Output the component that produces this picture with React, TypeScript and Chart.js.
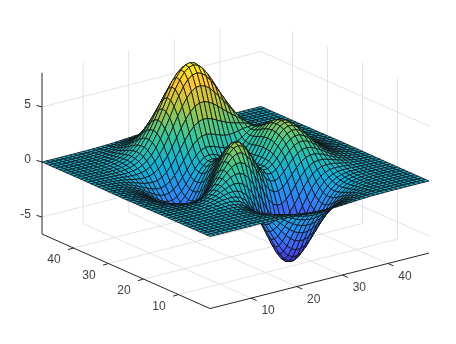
import React, { useEffect, useRef } from "react";
import { Chart, registerables } from "chart.js";

Chart.register(...registerables);

// Mesh sample positions on both horizontal axes
const gridIndex = [1,2,3,4,5,6,7,8,9,10,11,12,13,14,15,16,17,18,19,20,21,22,23,24,25,26,27,28,29,30,31,32,33,34,35,36,37,38,39,40,41,42,43,44,45,46,47,48,49];
const xTicks = [10, 20, 30, 40];
const yTicks = [10, 20, 30, 40];
const zTicks = [-5, 0, 5];
const zMin = -6.55;
const zMax = 8.11;

// Surface heights, one list per y index, each running along x
const y01 = [0,0,0,0,0,0,0,0,0,0,.01,.01,0,0,-.01,-.02,-.03,-.05,-.08,-.11,-.14,-.17,-.2,-.23,-.25,-.25,-.25,-.24,-.22,-.2,-.17,-.14,-.11,-.08,-.06,-.04,-.03,-.02,-.01,-.01,0,0,0,0,0,0,0,0,0];
const y02 = [0,0,0,0,0,0,0,0,.01,.01,.01,.01,0,0,-.01,-.03,-.06,-.09,-.14,-.19,-.24,-.3,-.35,-.39,-.42,-.44,-.43,-.41,-.38,-.34,-.29,-.24,-.19,-.14,-.1,-.07,-.05,-.03,-.02,-.01,-.01,0,0,0,0,0,0,0,0];
const y03 = [0,0,0,0,0,0,0,.01,.01,.01,.01,.01,0,0,-.02,-.05,-.1,-.15,-.22,-.3,-.39,-.48,-.56,-.63,-.68,-.7,-.7,-.66,-.61,-.54,-.46,-.38,-.3,-.23,-.17,-.12,-.08,-.05,-.03,-.02,-.01,-.01,0,0,0,0,0,0,0];
const y04 = [0,0,0,0,0,0,.01,.01,.01,.01,.01,.01,0,-.01,-.04,-.09,-.16,-.24,-.35,-.48,-.61,-.75,-.88,-.98,-1.06,-1.09,-1.08,-1.03,-.95,-.84,-.71,-.59,-.46,-.35,-.26,-.18,-.12,-.08,-.05,-.03,-.02,-.01,-.01,0,0,0,0,0,0];
const y05 = [0,0,0,0,0,.01,.01,.01,.01,.02,.02,.02,0,-.02,-.07,-.13,-.23,-.36,-.52,-.71,-.91,-1.11,-1.3,-1.46,-1.56,-1.61,-1.6,-1.53,-1.4,-1.24,-1.06,-.87,-.69,-.52,-.38,-.27,-.18,-.12,-.08,-.05,-.03,-.01,-.01,0,0,0,0,0,0];
const y06 = [0,0,0,0,0,.01,.01,.02,.02,.02,.03,.02,0,-.03,-.1,-.19,-.33,-.51,-.74,-1.01,-1.3,-1.58,-1.85,-2.07,-2.23,-2.3,-2.28,-2.18,-2,-1.77,-1.51,-1.23,-.98,-.74,-.54,-.38,-.26,-.17,-.11,-.06,-.04,-.02,-.01,-.01,0,0,0,0,0];
const y07 = [0,0,0,0,.01,.01,.01,.02,.03,.03,.04,.03,.01,-.04,-.12,-.25,-.44,-.69,-.99,-1.35,-1.74,-2.14,-2.51,-2.81,-3.02,-3.12,-3.1,-2.96,-2.72,-2.41,-2.05,-1.68,-1.32,-1.01,-.73,-.52,-.35,-.22,-.14,-.08,-.05,-.02,-.01,-.01,0,0,0,0,0];
const y08 = [0,0,0,0,.01,.01,.02,.03,.04,.05,.05,.05,.02,-.03,-.13,-.29,-.53,-.84,-1.23,-1.69,-2.2,-2.71,-3.19,-3.59,-3.88,-4.01,-3.99,-3.82,-3.51,-3.1,-2.64,-2.16,-1.7,-1.29,-.94,-.66,-.44,-.28,-.17,-.1,-.06,-.03,-.01,-.01,0,0,0,0,0];
const y09 = [0,0,0,.01,.01,.01,.02,.03,.05,.06,.07,.07,.05,-.01,-.13,-.32,-.59,-.97,-1.45,-2.01,-2.64,-3.28,-3.88,-4.39,-4.76,-4.94,-4.93,-4.72,-4.35,-3.85,-3.27,-2.67,-2.1,-1.59,-1.15,-.8,-.53,-.34,-.2,-.12,-.06,-.03,-.01,0,0,0,0,0,0];
const y10 = [0,0,0,.01,.01,.02,.03,.04,.06,.08,.1,.1,.09,.04,-.08,-.27,-.58,-1,-1.54,-2.2,-2.93,-3.69,-4.41,-5.03,-5.49,-5.73,-5.74,-5.51,-5.08,-4.5,-3.82,-3.12,-2.44,-1.83,-1.32,-.9,-.59,-.37,-.22,-.12,-.06,-.03,-.01,0,0,0,0,0,0];
const y11 = [0,0,0,.01,.01,.02,.03,.05,.07,.1,.13,.15,.15,.12,.02,-.16,-.46,-.9,-1.48,-2.19,-3.01,-3.87,-4.7,-5.43,-5.98,-6.29,-6.33,-6.1,-5.64,-5,-4.24,-3.45,-2.69,-2,-1.42,-.96,-.61,-.37,-.2,-.1,-.04,-.01,0,.01,.01,.01,0,0,0];
const y12 = [0,0,0,0,.01,.02,.03,.05,.08,.12,.16,.2,.24,.24,.18,.04,-.22,-.63,-1.19,-1.92,-2.77,-3.69,-4.6,-5.42,-6.06,-6.45,-6.55,-6.35,-5.89,-5.22,-4.42,-3.58,-2.76,-2.03,-1.41,-.93,-.57,-.32,-.16,-.06,-.01,.01,.02,.02,.01,.01,.01,0,0];
const y13 = [0,0,0,0,.01,.01,.03,.05,.08,.12,.18,.26,.33,.38,.39,.33,.15,-.18,-.68,-1.35,-2.18,-3.12,-4.07,-4.96,-5.68,-6.15,-6.32,-6.18,-5.76,-5.11,-4.31,-3.46,-2.63,-1.89,-1.27,-.79,-.44,-.21,-.07,.01,.04,.05,.05,.04,.03,.02,.01,.01,0];
const y14 = [0,0,0,0,0,0,.01,.03,.07,.12,.19,.29,.41,.53,.62,.67,.61,.41,.04,-.53,-1.28,-2.17,-3.12,-4.05,-4.83,-5.39,-5.65,-5.6,-5.25,-4.65,-3.9,-3.09,-2.29,-1.57,-.98,-.53,-.22,-.03,.08,.12,.12,.11,.08,.06,.04,.03,.02,.01,.01];
const y15 = [0,-.01,-.01,-.01,-.01,-.02,-.01,0,.03,.08,.17,.29,.45,.64,.83,1.01,1.11,1.08,.88,.48,-.14,-.94,-1.85,-2.77,-3.61,-4.24,-4.61,-4.66,-4.4,-3.9,-3.22,-2.48,-1.74,-1.08,-.56,-.17,.08,.22,.27,.26,.23,.18,.13,.09,.06,.04,.02,.01,.01];
const y16 = [-.01,-.01,-.01,-.02,-.03,-.04,-.05,-.05,-.03,.01,.09,.23,.42,.68,.97,1.28,1.55,1.73,1.73,1.53,1.09,.43,-.4,-1.3,-2.16,-2.87,-3.32,-3.48,-3.34,-2.94,-2.36,-1.69,-1.04,-.47,-.02,.29,.46,.52,.5,.44,.35,.27,.19,.13,.09,.05,.03,.02,.01];
const y17 = [-.01,-.01,-.02,-.04,-.06,-.08,-.1,-.12,-.13,-.11,-.04,.09,.3,.6,.98,1.42,1.86,2.23,2.45,2.47,2.22,1.72,.99,.14,-.73,-1.48,-2.02,-2.27,-2.22,-1.92,-1.43,-.85,-.27,.22,.58,.8,.88,.86,.77,.64,.5,.37,.26,.18,.11,.07,.04,.02,.01];
const y18 = [-.01,-.02,-.04,-.06,-.09,-.13,-.17,-.22,-.26,-.28,-.24,-.14,.07,.39,.83,1.36,1.95,2.5,2.93,3.15,3.11,2.76,2.16,1.37,.51,-.27,-.86,-1.18,-1.21,-.97,-.54,-.02,.49,.91,1.2,1.33,1.33,1.23,1.06,.85,.66,.48,.34,.22,.14,.09,.05,.03,.02];
const y19 = [-.02,-.03,-.05,-.08,-.12,-.18,-.25,-.34,-.42,-.49,-.51,-.45,-.28,.03,.49,1.09,1.78,2.48,3.09,3.5,3.63,3.44,2.94,2.22,1.4,.61,0,-.36,-.41,-.2,.2,.7,1.18,1.56,1.79,1.86,1.78,1.59,1.35,1.08,.82,.59,.41,.28,.18,.11,.06,.04,.02];
const y20 = [-.02,-.04,-.06,-.1,-.16,-.24,-.35,-.47,-.61,-.73,-.82,-.83,-.72,-.45,0,.63,1.38,2.18,2.92,3.48,3.76,3.7,3.31,2.66,1.88,1.11,.51,.16,.11,.34,.76,1.27,1.75,2.11,2.31,2.33,2.19,1.94,1.62,1.29,.98,.71,.49,.33,.21,.13,.08,.04,.02];
const y21 = [-.03,-.05,-.08,-.13,-.2,-.3,-.44,-.61,-.8,-.99,-1.16,-1.25,-1.21,-1.01,-.6,.02,.8,1.66,2.49,3.16,3.55,3.6,3.3,2.73,2,1.27,.7,.39,.39,.67,1.14,1.69,2.2,2.57,2.76,2.75,2.56,2.25,1.87,1.48,1.12,.81,.56,.37,.24,.15,.09,.05,.03];
const y22 = [-.03,-.05,-.09,-.15,-.24,-.36,-.53,-.74,-.98,-1.24,-1.49,-1.66,-1.71,-1.58,-1.23,-.66,.12,1,1.89,2.63,3.11,3.25,3.03,2.53,1.86,1.19,.67,.42,.48,.83,1.37,1.98,2.53,2.92,3.11,3.08,2.86,2.51,2.09,1.65,1.25,.9,.62,.41,.26,.16,.09,.05,.03];
const y23 = [-.03,-.06,-.1,-.17,-.27,-.41,-.6,-.85,-1.14,-1.46,-1.78,-2.03,-2.16,-2.12,-1.84,-1.31,-.57,.32,1.23,2.02,2.56,2.77,2.63,2.19,1.58,.98,.53,.34,.48,.89,1.5,2.16,2.76,3.18,3.37,3.33,3.09,2.7,2.25,1.77,1.34,.96,.67,.44,.28,.17,.1,.06,.03];
const y24 = [-.03,-.06,-.11,-.18,-.29,-.44,-.66,-.93,-1.26,-1.63,-2,-2.32,-2.53,-2.55,-2.34,-1.88,-1.17,-.31,.6,1.41,2,2.26,2.18,1.81,1.27,.74,.35,.23,.43,.9,1.56,2.27,2.89,3.33,3.53,3.48,3.23,2.82,2.34,1.85,1.4,1,.7,.46,.29,.18,.11,.06,.03];
const y25 = [-.04,-.07,-.11,-.19,-.3,-.46,-.69,-.98,-1.33,-1.73,-2.14,-2.51,-2.77,-2.86,-2.71,-2.3,-1.65,-.82,.06,.88,1.48,1.78,1.75,1.45,.98,.51,.19,.13,.37,.89,1.57,2.3,2.94,3.38,3.58,3.53,3.27,2.86,2.37,1.87,1.41,1.02,.7,.47,.3,.18,.11,.06,.03];
const y26 = [-.04,-.07,-.11,-.19,-.3,-.47,-.69,-.99,-1.35,-1.76,-2.19,-2.59,-2.89,-3.02,-2.93,-2.57,-1.98,-1.21,-.36,.43,1.03,1.36,1.37,1.12,.72,.32,.06,.05,.32,.85,1.54,2.26,2.89,3.33,3.52,3.47,3.21,2.81,2.33,1.84,1.39,1,.69,.46,.29,.18,.11,.06,.03];
const y27 = [-.03,-.06,-.11,-.18,-.29,-.45,-.67,-.96,-1.32,-1.73,-2.16,-2.56,-2.87,-3.03,-2.98,-2.68,-2.15,-1.44,-.65,.1,.68,1.01,1.06,.86,.52,.18,-.03,-.01,.28,.8,1.47,2.16,2.76,3.18,3.36,3.31,3.06,2.67,2.22,1.75,1.32,.95,.66,.44,.28,.17,.1,.06,.03];
const y28 = [-.03,-.06,-.1,-.17,-.27,-.42,-.63,-.9,-1.24,-1.63,-2.04,-2.43,-2.74,-2.91,-2.88,-2.63,-2.16,-1.51,-.79,-.1,.45,.77,.84,.69,.41,.13,-.04,0,.28,.77,1.38,2.02,2.58,2.95,3.12,3.07,2.83,2.47,2.05,1.62,1.22,.88,.61,.4,.26,.16,.09,.05,.03];
const y29 = [-.03,-.05,-.09,-.15,-.25,-.38,-.57,-.82,-1.12,-1.47,-1.85,-2.21,-2.49,-2.65,-2.64,-2.42,-2,-1.42,-.76,-.12,.39,.71,.8,.69,.46,.23,.09,.13,.38,.8,1.34,1.9,2.38,2.7,2.83,2.78,2.56,2.23,1.84,1.45,1.09,.79,.54,.36,.23,.14,.08,.05,.03];
const y30 = [-.03,-.05,-.08,-.13,-.21,-.33,-.5,-.71,-.98,-1.28,-1.61,-1.92,-2.16,-2.29,-2.27,-2.06,-1.66,-1.13,-.52,.08,.57,.89,1.01,.95,.78,.58,.45,.47,.65,.99,1.41,1.85,2.22,2.47,2.55,2.48,2.27,1.97,1.62,1.27,.96,.69,.47,.31,.2,.12,.07,.04,.02];
const y31 = [-.02,-.04,-.07,-.11,-.18,-.28,-.42,-.59,-.82,-1.07,-1.33,-1.57,-1.76,-1.84,-1.78,-1.55,-1.16,-.64,-.05,.54,1.04,1.39,1.55,1.54,1.42,1.25,1.12,1.08,1.17,1.37,1.65,1.93,2.17,2.31,2.32,2.21,1.99,1.71,1.4,1.1,.82,.59,.4,.27,.17,.1,.06,.03,.02];
const y32 = [-.02,-.03,-.05,-.09,-.15,-.22,-.33,-.47,-.65,-.84,-1.03,-1.21,-1.32,-1.33,-1.21,-.94,-.51,.03,.65,1.26,1.8,2.2,2.43,2.49,2.42,2.27,2.11,1.99,1.95,1.99,2.08,2.18,2.24,2.24,2.16,1.99,1.76,1.49,1.2,.93,.69,.49,.34,.22,.14,.09,.05,.03,.02];
const y33 = [-.01,-.02,-.04,-.07,-.11,-.17,-.25,-.36,-.48,-.61,-.74,-.83,-.86,-.8,-.6,-.26,.23,.83,1.51,2.18,2.8,3.28,3.59,3.72,3.69,3.55,3.34,3.13,2.94,2.78,2.66,2.55,2.43,2.28,2.08,1.85,1.58,1.3,1.04,.79,.58,.41,.28,.18,.11,.07,.04,.02,.01];
const y34 = [-.01,-.02,-.03,-.05,-.08,-.12,-.18,-.25,-.33,-.41,-.47,-.48,-.43,-.28,0,.43,.99,1.67,2.43,3.19,3.89,4.46,4.86,5.06,5.08,4.94,4.68,4.36,4.01,3.66,3.33,3.01,2.7,2.39,2.07,1.76,1.45,1.16,.9,.67,.49,.34,.23,.15,.09,.06,.03,.02,.01];
const y35 = [-.01,-.01,-.02,-.04,-.06,-.08,-.12,-.16,-.2,-.22,-.22,-.17,-.05,.19,.55,1.05,1.7,2.46,3.29,4.13,4.92,5.58,6.07,6.34,6.39,6.25,5.94,5.52,5.02,4.5,3.97,3.46,2.97,2.51,2.09,1.7,1.35,1.05,.79,.58,.41,.28,.19,.12,.07,.04,.03,.01,.01];
const y36 = [0,-.01,-.01,-.02,-.04,-.05,-.07,-.08,-.09,-.08,-.03,.07,.26,.56,.98,1.55,2.25,3.07,3.97,4.87,5.73,6.46,7.01,7.33,7.41,7.26,6.92,6.41,5.81,5.14,4.46,3.8,3.17,2.6,2.09,1.65,1.27,.96,.7,.5,.35,.23,.15,.1,.06,.03,.02,.01,.01];
const y37 = [0,-.01,-.01,-.01,-.02,-.02,-.03,-.03,-.01,.03,.11,.25,.48,.81,1.27,1.87,2.61,3.45,4.37,5.31,6.19,6.96,7.54,7.89,7.99,7.85,7.48,6.93,6.25,5.5,4.72,3.96,3.25,2.61,2.05,1.58,1.18,.87,.62,.43,.29,.19,.12,.08,.05,.03,.02,.01,0];
const y38 = [0,0,0,-.01,-.01,-.01,0,.01,.04,.1,.2,.36,.6,.95,1.42,2.02,2.74,3.57,4.48,5.39,6.27,7.02,7.6,7.96,8.07,7.93,7.56,7,6.3,5.52,4.71,3.92,3.18,2.52,1.95,1.47,1.08,.78,.55,.37,.25,.16,.1,.06,.04,.02,.01,.01,0];
const y39 = [0,0,0,0,0,0,.01,.03,.07,.13,.24,.41,.65,.98,1.43,1.99,2.67,3.45,4.29,5.15,5.96,6.67,7.22,7.57,7.68,7.55,7.2,6.66,5.99,5.23,4.45,3.68,2.96,2.32,1.78,1.32,.96,.68,.47,.31,.21,.13,.08,.05,.03,.02,.01,.01,0];
const y40 = [0,0,0,0,0,.01,.02,.04,.08,.15,.25,.4,.62,.93,1.33,1.83,2.44,3.12,3.87,4.62,5.35,5.98,6.47,6.78,6.88,6.76,6.45,5.97,5.36,4.68,3.97,3.27,2.62,2.04,1.55,1.14,.82,.57,.39,.26,.17,.1,.06,.04,.02,.01,.01,0,0];
const y41 = [0,0,0,0,.01,.01,.02,.04,.08,.14,.23,.36,.55,.82,1.16,1.58,2.1,2.68,3.31,3.94,4.56,5.09,5.51,5.77,5.86,5.76,5.5,5.09,4.57,3.98,3.37,2.77,2.21,1.71,1.29,.95,.68,.47,.32,.21,.13,.08,.05,.03,.02,.01,0,0,0];
const y42 = [0,0,0,0,.01,.01,.02,.04,.07,.12,.19,.3,.46,.67,.95,1.29,1.7,2.17,2.67,3.18,3.67,4.1,4.44,4.65,4.72,4.64,4.43,4.1,3.68,3.2,2.71,2.22,1.77,1.37,1.03,.75,.53,.37,.25,.16,.1,.06,.04,.02,.01,.01,0,0,0];
const y43 = [0,0,0,0,0,.01,.02,.03,.06,.1,.15,.24,.36,.53,.74,1.01,1.32,1.68,2.07,2.46,2.84,3.17,3.43,3.59,3.65,3.59,3.43,3.17,2.84,2.47,2.09,1.71,1.36,1.05,.79,.57,.41,.28,.19,.12,.08,.05,.03,.02,.01,0,0,0,0];
const y44 = [0,0,0,0,0,.01,.01,.03,.04,.07,.12,.18,.27,.39,.55,.74,.97,1.24,1.52,1.81,2.09,2.33,2.52,2.64,2.68,2.64,2.52,2.33,2.09,1.82,1.53,1.25,1,.77,.57,.42,.29,.2,.13,.09,.05,.03,.02,.01,.01,0,0,0,0];
const y45 = [0,0,0,0,0,.01,.01,.02,.03,.05,.08,.13,.19,.28,.39,.52,.69,.87,1.07,1.27,1.46,1.63,1.77,1.85,1.88,1.85,1.77,1.63,1.46,1.27,1.07,.88,.7,.54,.4,.29,.2,.14,.09,.06,.04,.02,.01,.01,0,0,0,0,0];
const y46 = [0,0,0,0,0,0,.01,.01,.02,.04,.06,.09,.13,.19,.26,.35,.46,.59,.72,.86,.99,1.1,1.19,1.25,1.27,1.25,1.19,1.1,.99,.86,.73,.59,.47,.36,.27,.2,.14,.09,.06,.04,.02,.01,.01,.01,0,0,0,0,0];
const y47 = [0,0,0,0,0,0,0,.01,.01,.02,.04,.06,.08,.12,.17,.23,.3,.38,.47,.55,.64,.71,.77,.81,.82,.81,.77,.71,.64,.55,.47,.38,.3,.23,.17,.13,.09,.06,.04,.03,.02,.01,.01,0,0,0,0,0,0];
const y48 = [0,0,0,0,0,0,0,.01,.01,.01,.02,.04,.05,.08,.11,.14,.19,.24,.29,.34,.4,.44,.48,.5,.51,.5,.48,.44,.4,.35,.29,.24,.19,.14,.11,.08,.05,.04,.02,.02,.01,.01,0,0,0,0,0,0,0];
const y49 = [0,0,0,0,0,0,0,0,.01,.01,.01,.02,.03,.05,.06,.08,.11,.14,.17,.2,.23,.26,.28,.3,.3,.3,.28,.26,.23,.2,.17,.14,.11,.08,.06,.05,.03,.02,.01,.01,.01,0,0,0,0,0,0,0,0];
const zRows = [y01,y02,y03,y04,y05,y06,y07,y08,y09,y10,y11,y12,y13,y14,y15,y16,y17,y18,y19,y20,y21,y22,y23,y24,y25,y26,y27,y28,y29,y30,y31,y32,y33,y34,y35,y36,y37,y38,y39,y40,y41,y42,y43,y44,y45,y46,y47,y48,y49];

const parula = [
  [0.2422, 0.1504, 0.6603], [0.281, 0.3228, 0.9579], [0.1786, 0.5289, 0.9682], [0.0689, 0.6948, 0.8394],
  [0.2161, 0.7843, 0.5923], [0.672, 0.7793, 0.2724], [0.997, 0.7659, 0.2199], [0.9769, 0.9839, 0.0805],
];

function colorFor(z: number) {
  const t = Math.max(0, Math.min(0.9999, (z - zMin) / (zMax - zMin))) * (parula.length - 1);
  const k = Math.floor(t);
  const f = t - k;
  const c = parula[k].map((v, n) => Math.round(255 * (v + (parula[k + 1][n] - v) * f)));
  return `rgb(${c[0]},${c[1]},${c[2]})`;
}

// Orthographic view of the 3-D box into the chart's plane coordinates
function project(x: number, y: number, z: number) {
  const a = (x - 1) / 48;
  const b = (y - 1) / 48;
  return { x: 210 + a * 219 - b * 168, y: 236.5 - a * 55.5 - b * 74.5 - z * 11 };
}

const GRID = "rgb(226,226,230)";
const AXIS = "#262626";

function segment(points: { x: number; y: number }[], color: string, width = 1) {
  return { data: points, showLine: true, fill: false, borderColor: color, borderWidth: width, pointRadius: 0, tension: 0 };
}

function buildDatasets() {
  const sets: any[] = [];
  for (let j = 0; j < gridIndex.length - 1; j++) {
    for (let i = 0; i < gridIndex.length - 1; i++) {
      const corners = [
        project(gridIndex[i], gridIndex[j], zRows[j][i]),
        project(gridIndex[i + 1], gridIndex[j], zRows[j][i + 1]),
        project(gridIndex[i + 1], gridIndex[j + 1], zRows[j + 1][i + 1]),
        project(gridIndex[i], gridIndex[j + 1], zRows[j + 1][i]),
      ];
      sets.push({
        data: [...corners, corners[0]],
        showLine: true,
        fill: "shape",
        backgroundColor: colorFor(zRows[j][i]),
        borderColor: "rgba(18,18,22,0.95)",
        borderWidth: 0.85,
        pointRadius: 0,
        tension: 0,
      });
    }
  }
  // axes
  sets.push(segment([project(1, 49, zMin), project(1, 49, zMax)], AXIS));
  sets.push(segment([project(1, 1, zMin), project(49, 1, zMin)], AXIS));
  sets.push(segment([project(1, 1, zMin), project(1, 49, zMin)], AXIS));
  zTicks.forEach((t) => {
    const p = project(1, 49, t);
    sets.push(segment([p, { x: p.x - 5.5, y: p.y - 1.6 }], AXIS));
  });
  xTicks.forEach((t) => {
    const p = project(t, 1, zMin);
    sets.push(segment([p, { x: p.x + 5.5, y: p.y + 2.4 }], AXIS));
  });
  yTicks.forEach((t) => {
    const p = project(1, t, zMin);
    sets.push(segment([p, { x: p.x - 5.5, y: p.y + 1.6 }], AXIS));
  });
  // grid
  xTicks.forEach((t) => {
    sets.push(segment([project(t, 1, zMin), project(t, 49, zMin), project(t, 49, zMax)], GRID));
  });
  yTicks.forEach((t) => {
    sets.push(segment([project(1, t, zMin), project(49, t, zMin), project(49, t, zMax)], GRID));
  });
  zTicks.forEach((t) => {
    sets.push(segment([project(1, 49, t), project(49, 49, t), project(49, 1, t)], GRID));
  });
  return sets;
}

const tickText = {
  id: "tickText",
  afterDraw(chart: any) {
    const { ctx, scales } = chart;
    const put = (p: { x: number; y: number }, dx: number, dy: number, label: string) => {
      ctx.fillText(label, scales.x.getPixelForValue(p.x + dx), scales.y.getPixelForValue(p.y + dy));
    };
    ctx.save();
    ctx.font = '12px "Liberation Sans", Arial, sans-serif';
    ctx.fillStyle = "#404040";
    ctx.textBaseline = "middle";
    ctx.textAlign = "center";
    xTicks.forEach((t) => put(project(t, 1, zMin), 17, 13, String(t)));
    yTicks.forEach((t) => put(project(1, t, zMin), -19.5, 12, String(t)));
    ctx.textAlign = "right";
    zTicks.forEach((t) => put(project(1, 49, t), -11, -2.5, String(t)));
    ctx.restore();
  },
};

export default function App() {
  const ref = useRef<HTMLCanvasElement | null>(null);
  useEffect(() => {
    document.body.style.margin = "0";
    document.body.style.background = "#fff";
    const chart = new Chart(ref.current as HTMLCanvasElement, {
      type: "scatter",
      data: { datasets: buildDatasets() },
      options: {
        animation: false,
        responsive: false,
        events: [],
        layout: { padding: 0 },
        plugins: { legend: { display: false }, title: { display: false }, tooltip: { enabled: false } },
        scales: {
          x: { type: "linear", display: false, min: 0, max: 456 },
          y: { type: "linear", display: false, min: 0, max: 344, reverse: true },
        },
      },
      plugins: [tickText],
    } as any);
    return () => chart.destroy();
  }, []);
  return <canvas ref={ref} width={456} height={344} style={{ display: "block" }} />;
}
